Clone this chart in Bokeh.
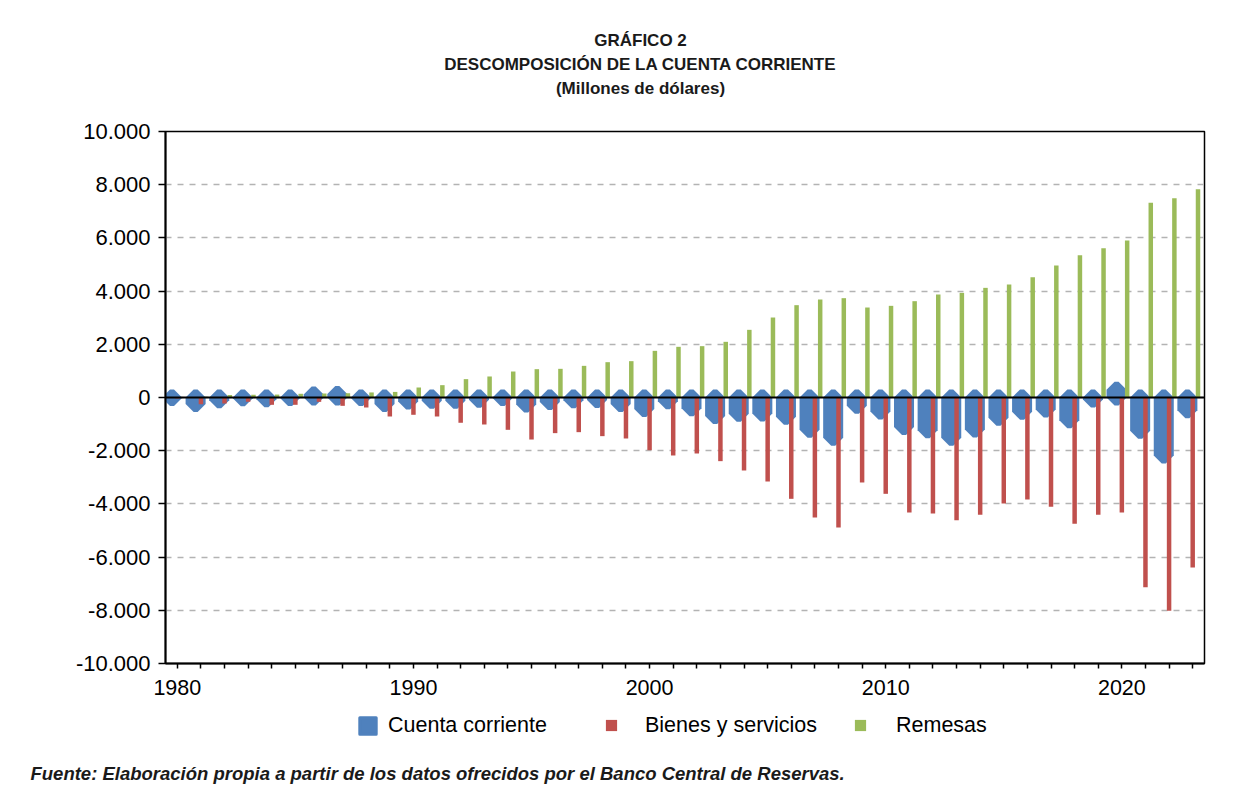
from bokeh.plotting import figure
from bokeh.layouts import column
from bokeh.models import (FixedTicker, CustomJSTickFormatter, Span, Legend,
                          LegendItem, ColumnDataSource, Range1d)
from bokeh.transform import dodge
from bokeh.core.properties import value
from bokeh.embed import file_html
from bokeh.resources import INLINE

# ---------------- data ----------------
years = list(range(1980, 2024))
cuenta_corriente = [-20, -240, -100, -30, -70, -20, 110, 130, -20, -240,
                    -150, -120, -120, -80, -20, -260, -170, -100, -90, -240,
                    -430, -140, -400, -700, -614, -602, -727, -1215, -1516, -313,
                    -526, -1110, -1235, -1516, -1203, -765, -539, -451, -852, -75,
                    288, -1253, -2181, -476]
bienes_servicios = [-40, -250, -225, -163, -275, -275, -163, -313, -376, -714,
                    -650, -714, -950, -1015, -1215, -1580, -1340, -1303, -1453, -1541,
                    -1980, -2180, -2105, -2393, -2744, -3158, -3809, -4511, -4887, -3195,
                    -3621, -4323, -4361, -4611, -4411, -3985, -3834, -4110, -4749, -4411,
                    -4323, -7130, -8020, -6390]
remesas = [10, 30, 90, 100, 110, 140, 150, 160, 190, 210,
           376, 464, 690, 790, 977, 1065, 1078, 1190, 1328, 1366,
           1754, 1905, 1930, 2093, 2544, 3007, 3471, 3684, 3734, 3383,
           3446, 3621, 3872, 3934, 4122, 4248, 4523, 4962, 5350, 5613,
           5902, 7318, 7493, 7831]
x_tick_labels = ["1980", "1990", "2000", "2010", "2020"]
y_ticks = [-10000, -8000, -6000, -4000, -2000, 0, 2000, 4000, 6000, 8000, 10000]
series_names = ["Cuenta corriente", "Bienes y servicios", "Remesas"]
title_lines = ["GRÁFICO 2", "DESCOMPOSICIÓN DE LA CUENTA CORRIENTE", "(Millones de dólares)"]
source_note = "Fuente: Elaboración propia a partir de los datos ofrecidos por el Banco Central de Reservas."

# ---------------- style ----------------
BLUE = "#4F81BD"
RED = "#C0504D"
GREEN = "#9BBB59"
FONT = "Liberation Sans"
W = 1244
NAN = float("nan")


def blank_fig(height):
    f = figure(width=W, height=height, output_backend="svg", toolbar_location=None,
               x_range=Range1d(0, W), y_range=Range1d(height, 0),
               x_axis_type=None, y_axis_type=None,
               min_border_left=0, min_border_right=0, min_border_top=0,
               min_border_bottom=0, title=None, frame_align=False)
    f.outline_line_color = None
    f.grid.visible = False
    f.background_fill_color = "white"
    f.border_fill_color = "white"
    return f


# ---------------- title block ----------------
top = blank_fig(116)
top.text(x=[640, 640, 640], y=[40, 64, 88], text=title_lines,
         text_font=value(FONT), text_font_style="bold", text_font_size="17px",
         text_align="center", text_baseline="middle", text_color="#1a1a1a")

# ---------------- main chart ----------------
src = ColumnDataSource(dict(year=years, cc=cuenta_corriente,
                            bs=bienes_servicios, rem=remesas))

p = figure(width=W, height=597, output_backend="svg", toolbar_location=None,
           x_range=Range1d(1979.5, 2023.5), y_range=Range1d(-10000, 10000),
           min_border_left=165, min_border_right=40,
           min_border_top=15, min_border_bottom=50, title=None,
           frame_align=False)
p.background_fill_color = "white"
p.border_fill_color = "white"
p.outline_line_color = "black"
p.outline_line_width = 1.5

p.vbar(x=dodge("year", -0.225, range=p.x_range), top="cc", bottom=0,
       width=0.17, source=src, fill_color=BLUE, line_color=BLUE,
       line_width=16, line_join="bevel")
p.vbar(x="year", top="bs", bottom=0, width=0.19, source=src,
       fill_color=RED, line_color=None)
p.vbar(x=dodge("year", 0.225, range=p.x_range), top="rem", bottom=0,
       width=0.19, source=src, fill_color=GREEN, line_color=None)

p.add_layout(Span(location=0, dimension="width", line_color="black", line_width=2))

p.xaxis.ticker = FixedTicker(ticks=years)
p.xaxis.major_label_overrides = {y: (str(y) if str(y) in x_tick_labels else "") for y in years}
p.xaxis.major_tick_out = 5
p.xaxis.major_tick_in = 0
p.xaxis.minor_tick_out = 0
p.xaxis.minor_tick_in = 0
p.xaxis.axis_line_width = 2
p.xaxis.axis_line_color = "black"
p.xaxis.major_tick_line_color = "black"
p.xaxis.major_tick_line_width = 1.5
p.xaxis.major_label_text_font = FONT
p.xaxis.major_label_text_font_size = "21.5px"
p.xaxis.major_label_text_color = "black"
p.xaxis.major_label_standoff = 11

p.yaxis.ticker = FixedTicker(ticks=y_ticks)
p.yaxis.formatter = CustomJSTickFormatter(code=r"""
var a = Math.abs(Math.round(tick));
var s = a.toString().replace(/\B(?=(\d{3})+(?!\d))/g, ".");
return (tick < 0 ? "-" : "") + s;
""")
p.yaxis.major_tick_out = 7
p.yaxis.major_tick_in = 0
p.yaxis.minor_tick_out = 0
p.yaxis.minor_tick_in = 0
p.yaxis.axis_line_width = 2
p.yaxis.axis_line_color = "black"
p.yaxis.major_tick_line_color = "black"
p.yaxis.major_tick_line_width = 1.5
p.yaxis.major_label_text_font = FONT
p.yaxis.major_label_text_font_size = "22px"
p.yaxis.major_label_text_color = "black"
p.yaxis.major_label_standoff = 8

p.xgrid.visible = False
p.ygrid.ticker = FixedTicker(ticks=y_ticks)
p.ygrid.grid_line_color = "#b3b3b3"
p.ygrid.grid_line_width = 1.5
p.ygrid.grid_line_dash = "6 6"

# ---------------- legend + source block ----------------
bottom = blank_fig(75)
blue_proxy = bottom.scatter(x=[NAN], y=[NAN], marker="square", size=17, fill_color=BLUE,
                            line_color=BLUE, line_width=3, line_join="round")
red_proxy = bottom.scatter(x=[NAN], y=[NAN], marker="square", size=11,
                           fill_color=RED, line_color=None)
green_proxy = bottom.scatter(x=[NAN], y=[NAN], marker="square", size=11,
                             fill_color=GREEN, line_color=None)

# (label, renderer, left, bottom, glyph box, standoff)
legend_specs = [
    (series_names[0], blue_proxy, 347, 42, 41, 0),
    (series_names[1], red_proxy, 597, 49, 28, 20),
    (series_names[2], green_proxy, 846, 49, 28, 22),
]
for name, rend, lx, ly, gbox, stand in legend_specs:
    lg = Legend(items=[LegendItem(label=name, renderers=[rend])],
                location=(lx, ly), orientation="horizontal",
                border_line_color=None, background_fill_alpha=0,
                padding=0, margin=0, spacing=0,
                glyph_width=gbox, glyph_height=gbox, label_standoff=stand,
                label_height=20,
                label_text_font=FONT, label_text_font_size="21.5px",
                label_text_color="black")
    bottom.add_layout(lg)

bottom.text(x=[30], y=[60], text=[source_note], text_font=value(FONT),
            text_font_style="bold italic", text_font_size="18.5px",
            text_align="left", text_baseline="middle", text_color="#1a1a1a")

layout = column(top, p, bottom, spacing=0)
open("out.html", "w").write(file_html(layout, INLINE))
